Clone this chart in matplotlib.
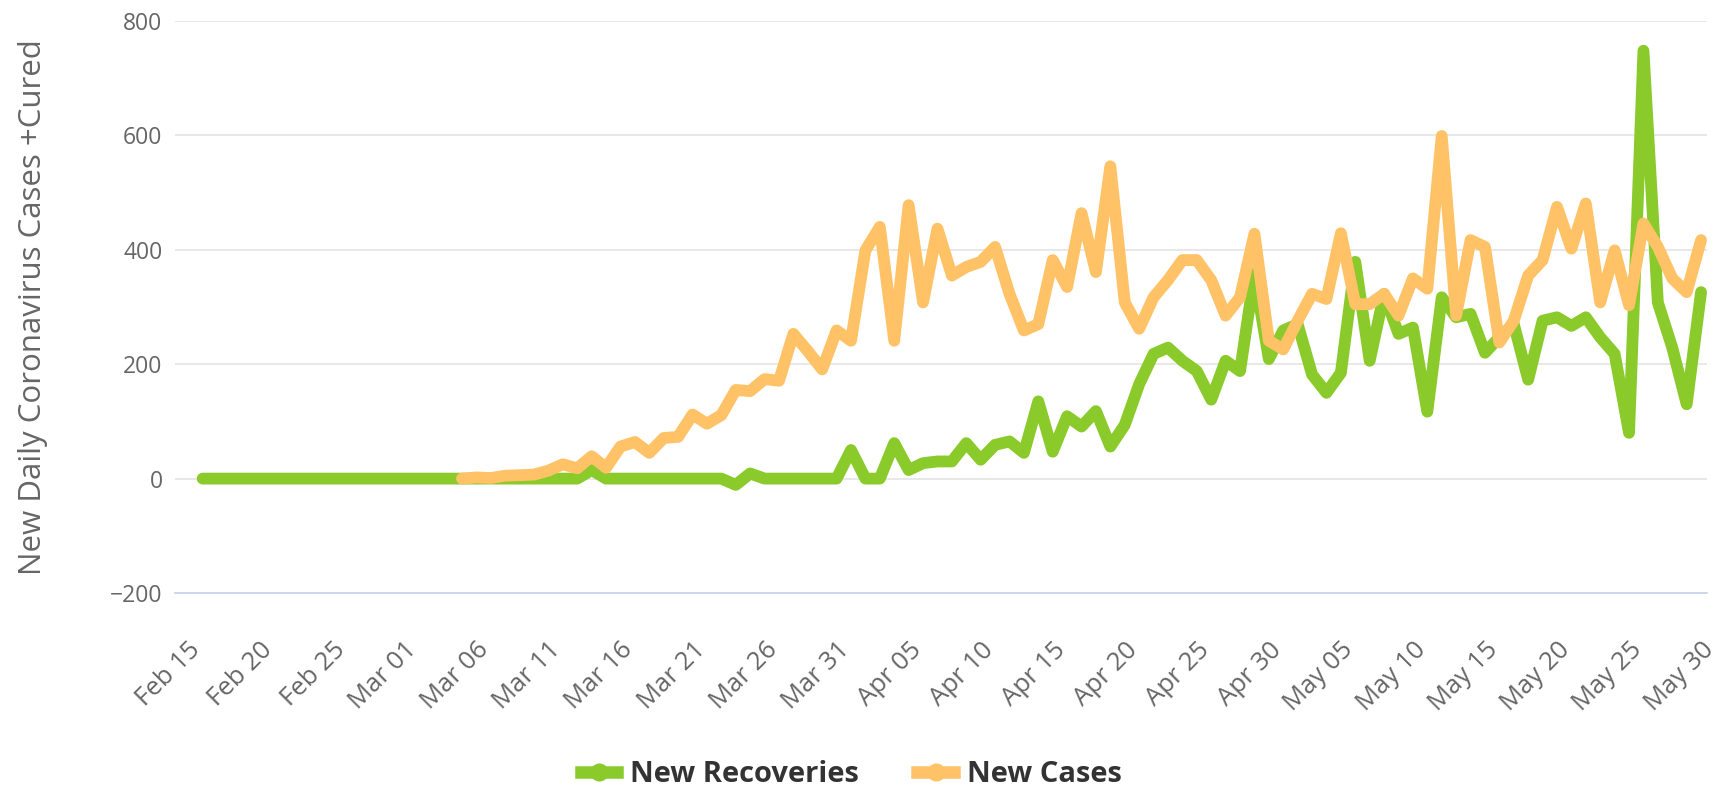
import pandas as pd
import matplotlib.pyplot as plt
import matplotlib.dates as mdates
from matplotlib.lines import Line2D

# data (daily values)
recovery_start = "2020-02-16"
new_recoveries = [
    0, 0, 0, 0, 0, 0, 0, 0, 0, 0, 0, 0, 0, 0,            # Feb 16 - Feb 29
    0, 0, 0, 0, 0, 0, 0, 0, 0, 0, 0, 0, 0,               # Mar 01 - Mar 13
    15, 0, 0, 0, 0, 0, 0, 0, 0, 0, -11, 9,               # Mar 14 - Mar 25
    0, 0, 0, 0, 0, 0,                                    # Mar 26 - Mar 31
    50, 0, 0, 62, 15, 27, 30, 30, 62, 33,                # Apr 01 - Apr 10
    59, 65, 45, 135, 47, 109, 91, 118, 56, 94,           # Apr 11 - Apr 20
    165, 218, 229, 206, 188, 138, 206, 188, 358, 209,    # Apr 21 - Apr 30
    259, 270, 182, 150, 185, 379, 206, 323, 253, 264,    # May 01 - May 10
    117, 317, 282, 288, 220, 247, 270, 173, 276, 282,    # May 11 - May 20
    267, 282, 247, 218, 80, 748, 308, 229, 130, 326,     # May 21 - May 30
]

cases_start = "2020-03-05"
new_cases = [
    0, 2, 1, 5, 6, 7, 14, 25, 18, 39, 19,                # Mar 05 - Mar 15
    56, 64, 45, 71, 73, 112, 96, 111, 155, 153,          # Mar 16 - Mar 25
    174, 171, 253, 223, 191, 259,                        # Mar 26 - Mar 31
    241, 399, 440, 241, 478, 308, 437, 355, 370, 379,    # Apr 01 - Apr 10
    405, 323, 259, 270, 382, 335, 464, 361, 546, 308,    # Apr 11 - Apr 20
    262, 317, 347, 382, 382, 347, 285, 317, 428, 241,    # Apr 21 - Apr 30
    226, 276, 323, 314, 429, 305, 305, 323, 285, 350,    # May 01 - May 10
    332, 599, 285, 417, 405, 238, 276, 355, 382, 475,    # May 11 - May 20
    402, 481, 308, 399, 303, 446, 405, 350, 326, 417,    # May 21 - May 30
]

GREEN  = '#8ACA2B'
ORANGE = '#FFC266'
GREY   = '#666666'


def main():
    rec_dates  = pd.date_range(recovery_start, periods=len(new_recoveries), freq='D')
    case_dates = pd.date_range(cases_start, periods=len(new_cases), freq='D')

    plt.rcParams.update({
        "font.family": ["Open Sans", "DejaVu Sans"],
    })

    fig = plt.figure(figsize=(17.16, 7.87), dpi=100)
    ax = fig.add_axes([0.102, 0.2465, 0.8928, 0.7268])

    ax.plot(rec_dates, new_recoveries, color=GREEN, linewidth=8.5,
            solid_joinstyle='round', solid_capstyle='round', zorder=3)
    ax.plot(case_dates, new_cases, color=ORANGE, linewidth=8.5,
            solid_joinstyle='round', solid_capstyle='round', zorder=4)

    ax.set_ylim(-200, 800)
    ax.set_yticks([-200, 0, 200, 400, 600, 800])
    ax.set_xlim(pd.Timestamp("2020-02-14 02:00"), pd.Timestamp("2020-05-30 10:00"))

    ticks = pd.date_range("2020-02-15", "2020-05-30", freq='5D')
    ax.set_xticks(ticks)
    ax.xaxis.set_major_formatter(mdates.DateFormatter('%b %d'))

    ax.grid(axis='y', color='#e6e6e6', linewidth=1.3, zorder=0)
    ax.grid(axis='x', visible=False)
    for side in ['top', 'right', 'left']:
        ax.spines[side].set_visible(False)
    ax.spines['bottom'].set_color('#ccd6eb')
    ax.spines['bottom'].set_linewidth(1.3)

    ax.tick_params(axis='y', length=0, pad=9, labelsize=16.5, labelcolor=GREY)
    ax.tick_params(axis='x', length=0, pad=32, labelsize=18.5, labelcolor=GREY,
                   labelrotation=45)
    for lbl in ax.get_xticklabels():
        lbl.set_horizontalalignment('right')
        lbl.set_rotation_mode('anchor')

    ax.set_ylabel("New Daily Coronavirus Cases +Cured", fontsize=22.5, color=GREY)
    ax.yaxis.set_label_coords(-0.083, 0.5)

    handles = [
        Line2D([0], [0], color=GREEN, linewidth=9, marker='o', markersize=12, label='New Recoveries'),
        Line2D([0], [0], color=ORANGE, linewidth=9, marker='o', markersize=12, label='New Cases'),
    ]
    leg = fig.legend(handles=handles, loc='center', bbox_to_anchor=(0.496, 0.016), ncol=2,
                     frameon=False, handlelength=1.25, handletextpad=0.45, columnspacing=2.0,
                     prop={'weight': 'bold', 'size': 21})
    for t in leg.get_texts():
        t.set_color('#333333')

    plt.savefig("out.png", dpi=100)
    plt.close()


if __name__ == "__main__":
    main()
